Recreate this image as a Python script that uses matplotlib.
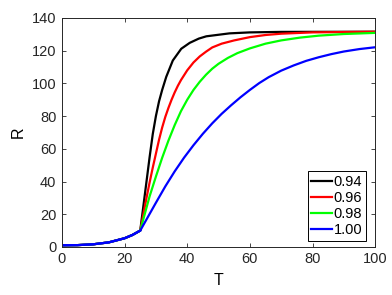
import matplotlib
matplotlib.use("Agg")
import matplotlib.pyplot as plt

plt.rcParams['font.family'] = ['Liberation Sans', 'DejaVu Sans']

# common growth phase up to the kink at T=25
T_common = [0, 5, 10, 15, 20, 22.5, 25]
R_common = [1.0, 1.1, 1.6, 2.8, 5.3, 7.3, 10]

# branches after the kink
T_094 = [25, 26, 27, 28, 29, 30, 31, 32, 33.3, 35.4, 38.1, 40.8, 43.7, 46.1, 53.5, 60, 70, 100]
R_094 = [10, 25, 40, 55, 69, 80, 89, 96, 104, 114, 121.2, 124.8, 127.4, 128.8, 130.6, 131.2, 131.5, 131.6]

T_096 = [25, 26, 27, 28, 29, 30, 31, 32, 33, 34, 35, 36, 37, 38, 40, 42, 44, 46, 48, 51, 55, 60, 65, 70, 80, 100]
R_096 = [10, 20, 30, 39.5, 48.5, 57, 65.5, 73, 79.5, 85, 90, 94.5, 98.5, 102, 108, 112.8, 116.5, 119.4,
         122, 124.3, 126.3, 128.3, 129.6, 130.4, 131.2, 131.6]

T_098 = [25, 26, 27, 28, 30, 32, 34, 36, 38, 40, 42, 44, 46, 48, 50, 53, 56, 60, 65, 70, 76, 82, 90, 100]
R_098 = [10, 17, 24, 31, 43, 54.5, 65, 74.5, 83, 90, 96, 101, 105.3, 109, 112, 115.6, 118.5, 121.4,
         124.3, 126.3, 128, 129.2, 130.2, 130.9]

T_100 = [25, 27, 30, 33, 36, 39, 42, 45, 48, 51, 54, 57, 60, 63, 66, 70, 74, 78, 82, 86, 90, 95, 100]
R_100 = [10, 16.8, 27, 37, 46.2, 54.6, 62.2, 69.2, 75.6, 81.4, 86.6, 91.5, 96, 100.2, 103.8, 107.8,
         111, 113.8, 116, 117.9, 119.5, 121, 122.1]

labels = ['0.94', '0.96', '0.98', '1.00']
colors = ['black', 'red', '#00ff00', 'blue']
branches = [(T_094, R_094), (T_096, R_096), (T_098, R_098), (T_100, R_100)]

fig = plt.figure(figsize=(3.92, 2.95), dpi=100)
ax = fig.add_axes([0.158, 0.163, 0.799, 0.776])

for (t, r), c, lab in zip(branches, colors, labels):
    ax.plot(T_common + t[1:], R_common + r[1:], color=c, lw=1.6, label=lab)
# shared part drawn in blue on top, as in the original
ax.plot(T_common, R_common, color='blue', lw=1.6)

ax.set_xlim(0, 100)
ax.set_ylim(0, 140)
ax.set_xticks([0, 20, 40, 60, 80, 100])
ax.set_yticks([0, 20, 40, 60, 80, 100, 120, 140])
ax.tick_params(direction='in', top=True, right=True, labelsize=10.5,
               length=3, width=0.6, colors='#262626', pad=4)
for s in ax.spines.values():
    s.set_linewidth(0.7)
    s.set_color('#262626')
ax.set_xlabel('T', fontsize=11.5, labelpad=5)
ax.set_ylabel('R', fontsize=11.5, labelpad=4)

leg = ax.legend(loc='lower right', bbox_to_anchor=(0.971, 0.026), fontsize=10.5,
                handlelength=1.45, handletextpad=0.1, labelspacing=0.15, borderpad=0.25,
                borderaxespad=0, fancybox=False, framealpha=1)
leg.get_frame().set_edgecolor('black')
leg.get_frame().set_linewidth(0.7)

fig.savefig('out.png', dpi=100)
